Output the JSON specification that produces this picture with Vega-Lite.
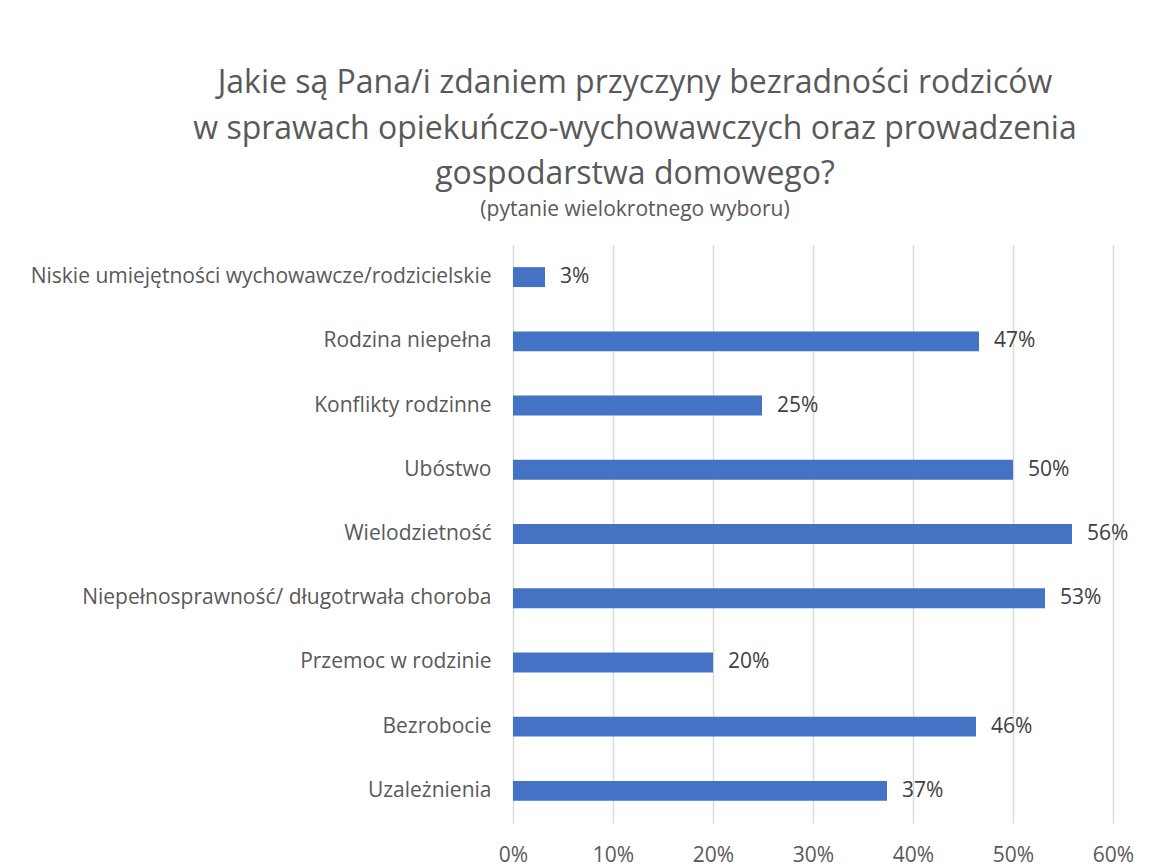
{
  "$schema": "https://vega.github.io/schema/vega-lite/v6.json",
  "autosize": {"type": "none"},
  "width": 600,
  "height": 578,
  "padding": {"left": 513, "top": 245, "right": 36, "bottom": 43},
  "background": "white",
  "title": {
    "text": ["Jakie są Pana/i zdaniem przyczyny bezradności rodziców", "w sprawach opiekuńczo-wychowawczych oraz prowadzenia", "gospodarstwa domowego?"],
    "subtitle": "(pytanie wielokrotnego wyboru)",
    "anchor": "middle",
    "frame": "group",
    "dx": -178,
    "font": "Open Sans",
    "fontSize": 32,
    "fontWeight": "normal",
    "color": "#595959",
    "lineHeight": 45.5,
    "subtitleFont": "Open Sans",
    "subtitleFontSize": 21,
    "subtitleColor": "#595959",
    "subtitlePadding": 8,
    "offset": 24
  },
  "data": {
    "values": [
      {"kategoria": "Niskie umiejętności wychowawcze/rodzicielskie", "wartosc": 0.032},
      {"kategoria": "Rodzina niepełna", "wartosc": 0.466},
      {"kategoria": "Konflikty rodzinne", "wartosc": 0.249},
      {"kategoria": "Ubóstwo", "wartosc": 0.5},
      {"kategoria": "Wielodzietność", "wartosc": 0.559},
      {"kategoria": "Niepełnosprawność/ długotrwała choroba", "wartosc": 0.532},
      {"kategoria": "Przemoc w rodzinie", "wartosc": 0.2},
      {"kategoria": "Bezrobocie", "wartosc": 0.463},
      {"kategoria": "Uzależnienia", "wartosc": 0.374}
    ]
  },
  "encoding": {
    "y": {
      "field": "kategoria",
      "type": "nominal",
      "sort": null,
      "title": null,
      "scale": {"paddingInner": 0.69, "paddingOuter": 0.345},
      "axis": {
        "domain": false,
        "ticks": false,
        "labelFont": "Open Sans",
        "labelFontSize": 21,
        "labelColor": "#595959",
        "labelPadding": 22,
        "labelLimit": 600
      }
    },
    "x": {
      "field": "wartosc",
      "type": "quantitative",
      "title": null,
      "scale": {"domain": [0, 0.6], "nice": false},
      "axis": {
        "format": ".0%",
        "values": [0, 0.1, 0.2, 0.3, 0.4, 0.5, 0.6],
        "domain": false,
        "ticks": false,
        "grid": true,
        "gridColor": "#D9D9D9",
        "gridWidth": 1.5,
        "labelFlush": false,
        "labelFont": "Open Sans",
        "labelFontSize": 21,
        "labelColor": "#595959",
        "labelPadding": 21
      }
    }
  },
  "layer": [
    {"mark": {"type": "bar", "color": "#4472C4"}},
    {
      "mark": {"type": "text", "align": "left", "baseline": "middle", "dx": 15, "font": "Open Sans", "fontSize": 21, "color": "#404040"},
      "encoding": {"text": {"field": "wartosc", "type": "quantitative", "format": ".0%"}}
    }
  ],
  "config": {"view": {"stroke": null}}
}
